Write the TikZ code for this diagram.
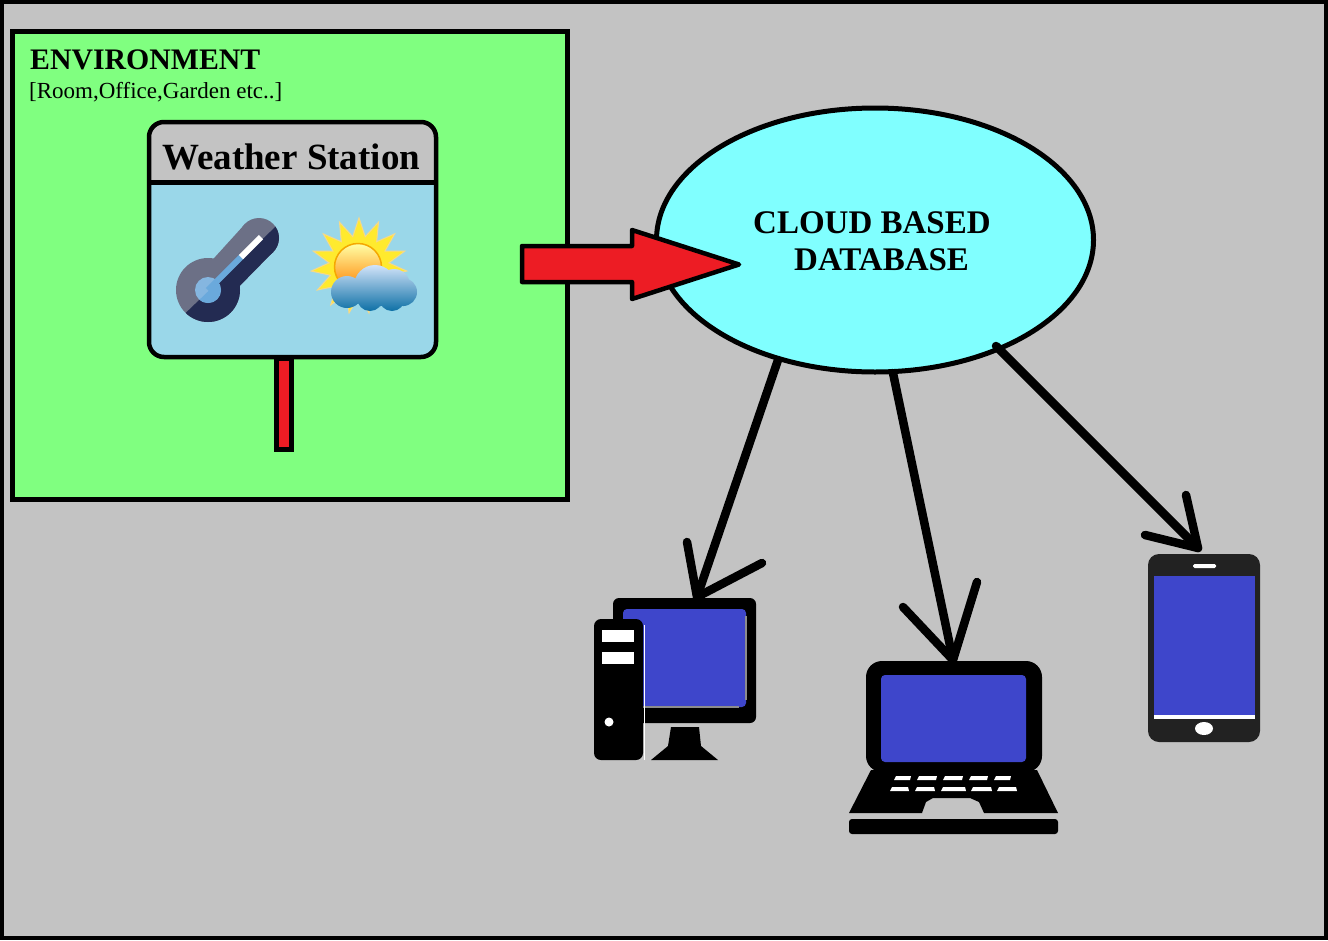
\documentclass[tikz,border=0pt]{standalone}
\usepackage{fontspec}
\setmainfont{Liberation Serif}
\usetikzlibrary{shapes.geometric}
\definecolor{bggray}{HTML}{C3C3C3}
\definecolor{envgreen}{HTML}{80FF80}
\definecolor{cloudcyan}{HTML}{80FFFF}
\definecolor{boardblue}{HTML}{9AD7E9}
\definecolor{alertred}{HTML}{ED1C24}
\definecolor{screenblue}{HTML}{3E46CB}
\definecolor{phonedark}{HTML}{222222}
\definecolor{thermgray}{HTML}{6C7086}
\definecolor{thermdark}{HTML}{232B52}
\definecolor{bulblight}{HTML}{85B6E0}
\definecolor{bulbdark}{HTML}{6AA9DC}
\definecolor{raysyellow}{HTML}{FFEA2E}
\definecolor{raysedge}{HTML}{F5D98A}
\definecolor{cloudtop}{HTML}{D2E3F9}
\definecolor{cloudmid}{HTML}{6FA8D2}
\definecolor{cloudlow}{HTML}{0E70A6}
\definecolor{sunedge}{HTML}{F5A800}
\tikzset{
  outline/.style={draw=black,line width=4pt},
  connector/.style={draw=black,line width=8.5pt,line cap=round,line join=round},
  devblack/.style={fill=black,draw=none},
  screen/.style={fill=screenblue,draw=none,rounded corners=4pt},
  keyslot/.style={fill=white,draw=none},
  label/.style={inner sep=0pt,anchor=base west,text=black},
}
\begin{document}
\begin{tikzpicture}[x=1pt,y=-1pt]
\useasboundingbox (0,0) rectangle (1328,940);
% background
\fill[bggray] (0,0) rectangle (1328,940);
\draw[black,line width=4pt] (2,2) rectangle (1326,938);
% environment
\draw[outline,line width=5pt,fill=envgreen] (12.5,31.5) rectangle (567.5,499.5);
\node[label,font=\bfseries\fontsize{29.8}{30}\selectfont] (envtitle) at (30,69) {ENVIRONMENT};
\node[label,font=\fontsize{23}{24}\selectfont] (envsub) at (29,98) {[Room,Office,Garden etc..]};
% post
\draw[outline,fill=alertred,line width=5pt] (276.5,358) rectangle (291.5,449.5);
% board
\fill[boardblue,rounded corners=15pt] (149,122) rectangle (436,357);
\begin{scope}
\clip[rounded corners=15pt] (149,122) rectangle (436,357);
\fill[bggray] (149,122) rectangle (436,182);
\end{scope}
\draw[outline,line width=4.5pt,rounded corners=15pt] (149,122) rectangle (436,357);
\draw[black,line width=4.5pt] (149,182.5) -- (436,182.5);
\node[label,font=\bfseries\fontsize{37}{38}\selectfont] (boardtitle) at (162,169) {Weather Station};
% thermometer
\fill[thermgray] (208,290) circle[radius=32];
\fill[thermgray] (259,238) circle[radius=20];
\fill[thermgray] (196,278) -- (245,224) -- (273,252) -- (222,304) -- cycle;
\begin{scope}
\clip (170,328) -- (295,208) -- (340,208) -- (340,340) -- (170,340) -- cycle;
\fill[thermdark] (208,290) circle[radius=32];
\fill[thermdark] (259,238) circle[radius=20];
\fill[thermdark] (196,278) -- (245,224) -- (273,252) -- (222,304) -- cycle;
\end{scope}
\fill[bulblight] (208,290) circle[radius=13];
\begin{scope}
\clip (170,328) -- (295,208) -- (340,208) -- (340,340) -- (170,340) -- cycle;
\fill[bulbdark] (208,290) circle[radius=13];
\end{scope}
\draw[bulbdark,line width=6pt] (208,290) -- (242,256);
\draw[white,line width=6pt] (241,257) -- (261,237);
% sun
\node[star,star points=15,star point ratio=1.6,fill=raysyellow,draw=raysedge,line width=1pt,minimum size=96pt,inner sep=0pt] (sunrays) at (359,266) {};
\shade[top color=yellow!35!white,middle color=yellow!90!orange,bottom color=orange,draw=sunedge,line width=1.5pt] (358,267) circle[radius=23.5];
% cloud symbol
\shade[top color=cloudtop,middle color=cloudmid,bottom color=cloudlow]
  (347,292) circle[radius=16] (375,286) circle[radius=21] (394,285) circle[radius=16] (403,292) circle[radius=14] (370,298) circle[radius=13] (392,298) circle[radius=13];
% cloud database
\node[ellipse,draw=black,line width=5pt,fill=cloudcyan,minimum width=437pt,minimum height=264pt,inner sep=0pt] (cloud) at (875,240) {};
\node[label,font=\bfseries\fontsize{33}{33}\selectfont] (cloudone) at (753,233) {CLOUD BASED};
\node[label,font=\bfseries\fontsize{33}{33}\selectfont] (cloudtwo) at (794,270) {DATABASE};
% red arrow
\draw[draw=black,line width=4.5pt,fill=alertred,line join=round] (522,246) -- (632,246) -- (632,230) -- (739,264.5) -- (632,299) -- (632,282) -- (522,282) -- cycle;
% desktop computer
\fill[devblack,rounded corners=6pt] (613,598) rectangle (756,723);
\fill[screen] (623,609) rectangle (746,707);
\draw[gray!90,line width=2pt] (643,707) -- (739,707) (746,616) -- (746,700);
\draw[white,line width=1pt] (644.5,625) -- (644.5,760);
\fill[devblack,rounded corners=7pt] (594,619) rectangle (643,760);
\fill[keyslot] (602,630) rectangle (634,642);
\fill[keyslot] (602,652) rectangle (634,664);
\fill[white] (609,722) circle[radius=4.5];
\fill[devblack] (671,727) -- (699,727) -- (701,746) -- (718,760) -- (651,760) -- (668,746) -- cycle;
% laptop
\fill[devblack,rounded corners=16pt] (866,661) rectangle (1042,772);
\fill[screen] (881,675) rectangle (1026,762);
\fill[devblack] (871,770) -- (1037,770) -- (1058,813) -- (984,813) -- (979,802) -- (970,798) -- (933,798) -- (926,802) -- (922,813) -- (849,813) -- cycle;
\fill[devblack,rounded corners=3pt] (849,819) -- (1058,819) -- (1058,834) -- (849,834) -- cycle;
\foreach \xa/\xb in {896/911,919/937,945/963,971/988,996/1011}
  \fill[keyslot] (\xa,776) -- (\xb,776) -- (\xb-1,780) -- (\xa-2,780) -- cycle;
\foreach \xa/\xb in {892/908,917/934,943/965,973/991,999/1016}
  \fill[keyslot] (\xa,787) -- (\xb,787) -- (\xb+1,791) -- (\xa-2,791) -- cycle;
% phone
\fill[phonedark,rounded corners=11pt] (1148,554) rectangle (1260,742);
\fill[screenblue] (1154,576) rectangle (1255,715);
\fill[white] (1154,715) rectangle (1255,718.5);
\fill[white,rounded corners=1.5pt] (1193,564) rectangle (1216,568);
\fill[white] (1204,728.5) ellipse[x radius=9,y radius=6.5];
% arrows
\coordinate (pc) at (697,597);
\coordinate (pcleft) at (687,542);
\coordinate (pcright) at (762,563);
\coordinate (laptop) at (953,660);
\coordinate (lapleft) at (903,607);
\coordinate (lapright) at (977,582);
\coordinate (phone) at (1198,548);
\coordinate (phoneleft) at (1186,495);
\coordinate (phoneright) at (1145,535);
\coordinate (cloudpc) at (778,360);
\coordinate (cloudlap) at (893,373);
\coordinate (cloudphone) at (996,346);
\draw[connector] (cloudpc) -- (pc);
\draw[connector] (pcleft) -- (pc) -- (pcright);
\draw[connector] (cloudlap) -- (laptop);
\draw[connector] (lapleft) -- (laptop) -- (lapright);
\draw[connector] (cloudphone) -- (phone);
\draw[connector] (phoneleft) -- (phone) -- (phoneright);
\end{tikzpicture}
\end{document}
